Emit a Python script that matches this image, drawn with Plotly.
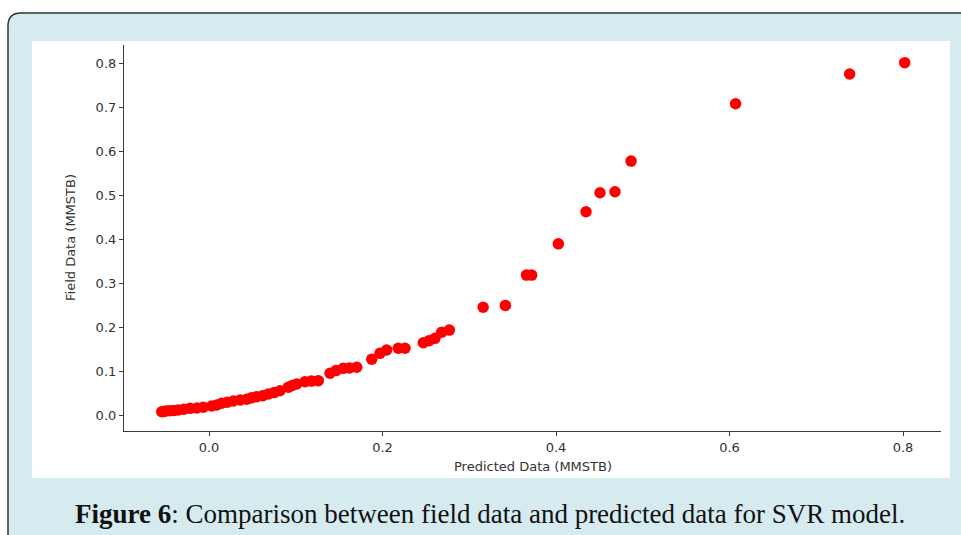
import plotly.graph_objects as go

# Data
predicted = [-0.0545, -0.052, -0.0496, -0.045, -0.0405, -0.0354, -0.029, -0.0219, -0.014, -0.0066,
             0.0031, 0.009, 0.0146, 0.021, 0.028, 0.036, 0.0435, 0.049, 0.055, 0.062,
             0.0684, 0.075, 0.0818, 0.0914, 0.096, 0.1011, 0.1107, 0.118, 0.126, 0.1395,
             0.1464, 0.1548, 0.162, 0.1703, 0.1876, 0.1971, 0.2048, 0.2182, 0.2259, 0.247,
             0.2536, 0.2605, 0.2682, 0.277, 0.316, 0.3416, 0.366, 0.372, 0.4027, 0.4346,
             0.4507, 0.468, 0.4865, 0.607, 0.7385, 0.802]
field = [0.0075, 0.008, 0.009, 0.0098, 0.0105, 0.0114, 0.013, 0.0152, 0.016, 0.0175,
         0.0205, 0.023, 0.0266, 0.029, 0.0318, 0.034, 0.0357, 0.039, 0.0416, 0.044,
         0.0477, 0.051, 0.0552, 0.063, 0.067, 0.0705, 0.0757, 0.077, 0.078, 0.0948,
         0.101, 0.106, 0.107, 0.1084, 0.1266, 0.1402, 0.1477, 0.1516, 0.1516, 0.1643,
         0.169, 0.1743, 0.188, 0.193, 0.245, 0.249, 0.318, 0.318, 0.389, 0.462,
         0.505, 0.5075, 0.577, 0.7075, 0.775, 0.8007]
x_ticks = [0.0, 0.2, 0.4, 0.6, 0.8]
y_ticks = [0.0, 0.1, 0.2, 0.3, 0.4, 0.5, 0.6, 0.7, 0.8]
x_title = "Predicted Data (MMSTB)"
y_title = "Field Data (MMSTB)"
caption = "<b>Figure 6</b>: Comparison between field data and predicted data for SVR model."

W, H = 961, 535
ML, MR, MT, MB = 124, 20, 45, 104
PW, PH = W - ML - MR, H - MT - MB


def fx(px):
    return (px - ML) / PW


def fy(py):
    return (H - MB - py) / PH


BG = "#d6ebf0"
AX = "#3a3a3a"
FONT = "DejaVu Sans"

fig = go.Figure()
fig.add_trace(go.Scatter(
    x=predicted, y=field, mode="markers",
    marker=dict(color="#ff0000", size=11.5, line=dict(width=0)),
    hoverinfo="skip", showlegend=False,
))

# rounded box path (light blue panel with dark border)
path = (f"M {fx(8)},{fy(545)} L {fx(8)},{fy(26)} "
        f"Q {fx(8)},{fy(13)} {fx(21)},{fy(13)} "
        f"L {fx(970)},{fy(13)} L {fx(970)},{fy(545)} Z")
shapes = [
    dict(type="path", xref="paper", yref="paper", path=path,
         fillcolor=BG, line=dict(color="#333333", width=1.5), layer="below"),
    dict(type="rect", xref="paper", yref="paper",
         x0=fx(32), x1=fx(950), y0=fy(478), y1=fy(41),
         fillcolor="white", line=dict(width=0), layer="below"),
]

annotations = [
    dict(text=x_title, xref="paper", yref="paper", x=fx(532.5), y=fy(466),
         showarrow=False, xanchor="center", yanchor="middle",
         font=dict(family=FONT, size=13, color="#333333")),
    dict(text=y_title, xref="paper", yref="paper", x=fx(70), y=fy(238),
         showarrow=False, xanchor="center", yanchor="middle", textangle=-90,
         font=dict(family=FONT, size=13, color="#333333")),
    dict(text=caption, xref="paper", yref="paper", x=fx(490), y=fy(514),
         showarrow=False, xanchor="center", yanchor="middle",
         font=dict(family="Liberation Serif", size=27, color="#111111")),
]

fig.update_layout(
    width=W, height=H,
    margin=dict(l=ML, r=MR, t=MT, b=MB, pad=0),
    paper_bgcolor="white", plot_bgcolor="rgba(0,0,0,0)",
    shapes=shapes, annotations=annotations,
    font=dict(family=FONT, size=13, color="#333333"),
    xaxis=dict(range=[(124 - 209) / 867.5, (941 - 209) / 867.5],
               tickvals=x_ticks, ticktext=[f"{v:.1f}" for v in x_ticks],
               showgrid=False, zeroline=False, showline=True, linecolor=AX, linewidth=1.2,
               ticks="outside", ticklen=4, tickcolor=AX, tickwidth=1.2),
    yaxis=dict(range=[(415 - 431) / 440, (415 - 45) / 440],
               tickvals=y_ticks, ticktext=[f"{v:.1f}" for v in y_ticks],
               showgrid=False, zeroline=False, showline=True, linecolor=AX, linewidth=1.2,
               ticks="outside", ticklen=4, tickcolor=AX, tickwidth=1.2),
)

fig.write_html("out.html")
